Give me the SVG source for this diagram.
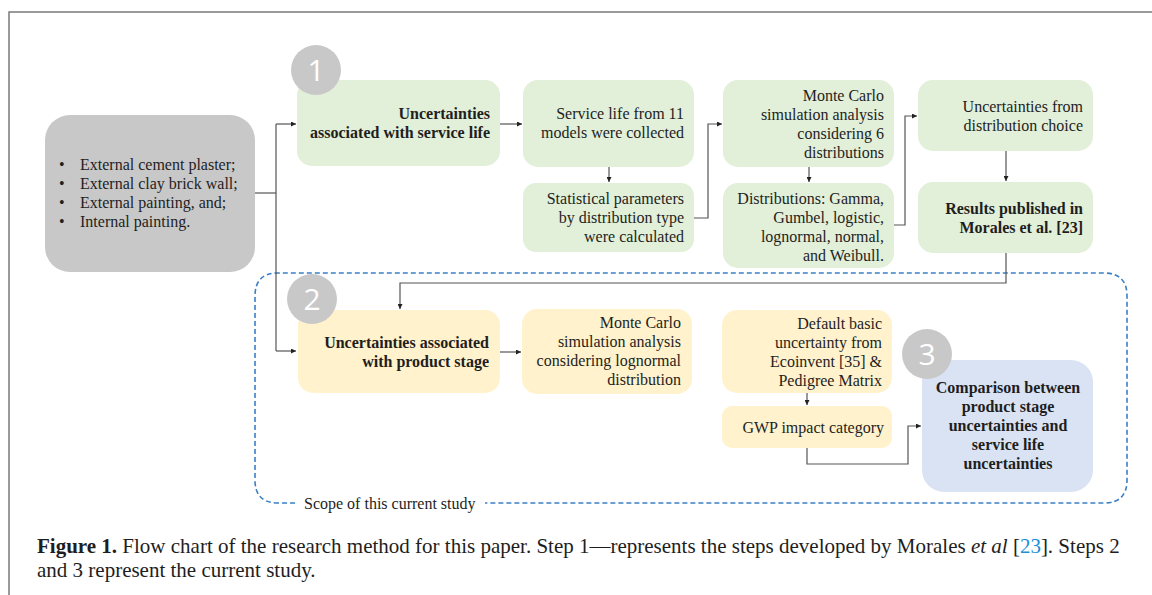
<svg xmlns="http://www.w3.org/2000/svg" width="1152" height="595" viewBox="0 0 1152 595">
<style>
.t{font-family:"Liberation Serif","Times New Roman",serif;font-size:16px;fill:#1e1e1e}
.r{text-anchor:end}
.b{font-weight:bold}
.c{text-anchor:middle}
.num{font-family:"Open Sans","DejaVu Sans",sans-serif;font-size:30px;fill:#ffffff;text-anchor:middle}
.green{fill:#e2efd9}
.yellow{fill:#fff2cc}
.blue{fill:#dae3f3}
.grey{fill:#c9c8c9}
.ln{fill:none;stroke:#555;stroke-width:1.2}
.cap{font-family:"Liberation Serif","Times New Roman",serif;font-size:21px;fill:#1e1e1e}
</style>
<defs>
<marker id="ah" viewBox="0 0 10 10" refX="10" refY="5" markerWidth="5" markerHeight="5" orient="auto" markerUnits="userSpaceOnUse">
<path d="M0,0 L10,5 L0,10 z" fill="#222"/>
</marker>
</defs>
<rect width="1152" height="595" fill="#ffffff"/>
<path d="M9,595 V12 H1152" fill="none" stroke="#7a7a7a" stroke-width="1.5"/>

<g id="scope">
<path d="M295,503 H278 Q255,503 255,480 V296 Q255,273 278,273 H1104 Q1127,273 1127,296 V480 Q1127,503 1104,503 H485" fill="none" stroke="#3b7fc4" stroke-width="1.6" stroke-dasharray="5,3"/>
<text class="t" x="304" y="509">Scope of this current study</text>
</g>

<g id="connectors">
<path class="ln" d="M255,193 H276"/>
<path class="ln" d="M276,124 V351"/>
<path class="ln" d="M276,124 H296" marker-end="url(#ah)"/>
<path class="ln" d="M276,351 H296" marker-end="url(#ah)"/>
<path class="ln" d="M500,124 H522" marker-end="url(#ah)"/>
<path class="ln" d="M609,167 V182" marker-end="url(#ah)"/>
<path class="ln" d="M694,218 H708 V124 H722" marker-end="url(#ah)"/>
<path class="ln" d="M809,167 V182" marker-end="url(#ah)"/>
<path class="ln" d="M894,225 H905 V116 H917" marker-end="url(#ah)"/>
<path class="ln" d="M1006,151 V181" marker-end="url(#ah)"/>
<path class="ln" d="M1006,253 V283 H400 V309" marker-end="url(#ah)"/>
<path class="ln" d="M500,352 H521" marker-end="url(#ah)"/>
<path class="ln" d="M807,393 V405" marker-end="url(#ah)"/>
<path class="ln" d="M807,448 V464 H908 V426 H921" marker-end="url(#ah)"/>
</g>

<g id="materials">
<rect class="grey" x="45" y="115" width="210" height="157" rx="25"/>
<text class="t" x="59" y="170">•</text><text class="t" x="80" y="170">External cement plaster;</text>
<text class="t" x="59" y="189">•</text><text class="t" x="80" y="189">External clay brick wall;</text>
<text class="t" x="59" y="208">•</text><text class="t" x="80" y="208">External painting, and;</text>
<text class="t" x="59" y="227">•</text><text class="t" x="80" y="227">Internal painting.</text>
</g>

<g id="step1-service-life">
<rect class="green" x="297" y="80" width="203" height="86" rx="15"/>
<text class="t r b" x="490" y="119">Uncertainties</text>
<text class="t r b" x="490" y="138">associated with service life</text>
</g>
<g id="badge1">
<circle class="grey" cx="316" cy="70" r="25"/>
<text class="num" x="316" y="81">1</text>
</g>

<g id="service-life-models">
<rect class="green" x="523" y="80" width="171" height="87" rx="15"/>
<text class="t r" x="684" y="119">Service life from 11</text>
<text class="t r" x="684" y="138">models were collected</text>
</g>

<g id="statistical-parameters">
<rect class="green" x="523" y="183" width="171" height="69" rx="13"/>
<text class="t r" x="684" y="204">Statistical parameters</text>
<text class="t r" x="684" y="223">by distribution type</text>
<text class="t r" x="684" y="242">were calculated</text>
</g>

<g id="monte-carlo-6">
<rect class="green" x="723" y="80" width="171" height="87" rx="15"/>
<text class="t r" x="884" y="101">Monte Carlo</text>
<text class="t r" x="884" y="120">simulation analysis</text>
<text class="t r" x="884" y="139">considering 6</text>
<text class="t r" x="884" y="158">distributions</text>
</g>

<g id="distributions">
<rect class="green" x="723" y="183" width="171" height="85" rx="15"/>
<text class="t r" x="884" y="204">Distributions: Gamma,</text>
<text class="t r" x="884" y="223">Gumbel, logistic,</text>
<text class="t r" x="884" y="242">lognormal, normal,</text>
<text class="t r" x="884" y="261">and Weibull.</text>
</g>

<g id="distribution-choice">
<rect class="green" x="918" y="80" width="175" height="71" rx="15"/>
<text class="t r" x="1083" y="112">Uncertainties from</text>
<text class="t r" x="1083" y="131">distribution choice</text>
</g>

<g id="results-published">
<rect class="green" x="918" y="182" width="175" height="71" rx="15"/>
<text class="t r b" x="1083" y="214">Results published in</text>
<text class="t r b" x="1083" y="233">Morales et al. [23]</text>
</g>

<g id="step2-product-stage">
<rect class="yellow" x="298" y="310" width="202" height="83" rx="15"/>
<text class="t r b" x="489" y="348">Uncertainties associated</text>
<text class="t r b" x="489" y="367">with product stage</text>
</g>
<g id="badge2">
<circle class="grey" cx="312" cy="299" r="25"/>
<text class="num" x="312" y="310">2</text>
</g>

<g id="monte-carlo-lognormal">
<rect class="yellow" x="522" y="309" width="170" height="85" rx="15"/>
<text class="t r" x="681" y="328">Monte Carlo</text>
<text class="t r" x="681" y="347">simulation analysis</text>
<text class="t r" x="681" y="366">considering lognormal</text>
<text class="t r" x="681" y="385">distribution</text>
</g>

<g id="default-uncertainty">
<rect class="yellow" x="722" y="310" width="170" height="83" rx="15"/>
<text class="t r" x="882" y="329">Default basic</text>
<text class="t r" x="882" y="348">uncertainty from</text>
<text class="t r" x="882" y="367">Ecoinvent [35] &amp;</text>
<text class="t r" x="882" y="386">Pedigree Matrix</text>
</g>

<g id="gwp">
<rect class="yellow" x="722" y="406" width="170" height="42" rx="10"/>
<text class="t r" x="884" y="433">GWP impact category</text>
</g>

<g id="step3-comparison">
<rect class="blue" x="922" y="360" width="171" height="132" rx="22"/>
<text class="t c b" x="1008" y="393">Comparison between</text>
<text class="t c b" x="1008" y="412">product stage</text>
<text class="t c b" x="1008" y="431">uncertainties and</text>
<text class="t c b" x="1008" y="450">service life</text>
<text class="t c b" x="1008" y="469">uncertainties</text>
</g>
<g id="badge3">
<circle class="grey" cx="927" cy="354" r="25"/>
<text class="num" x="927" y="365">3</text>
</g>

<g id="caption">
<text class="cap" x="37" y="553"><tspan font-weight="bold">Figure 1.</tspan>  Flow chart of the research method for this paper. Step 1—represents the steps developed by Morales <tspan font-style="italic">et al</tspan> [<tspan fill="#1a8fd6">23</tspan>]. Steps 2</text>
<text class="cap" x="37" y="577">and 3 represent the current study.</text>
</g>
</svg>
